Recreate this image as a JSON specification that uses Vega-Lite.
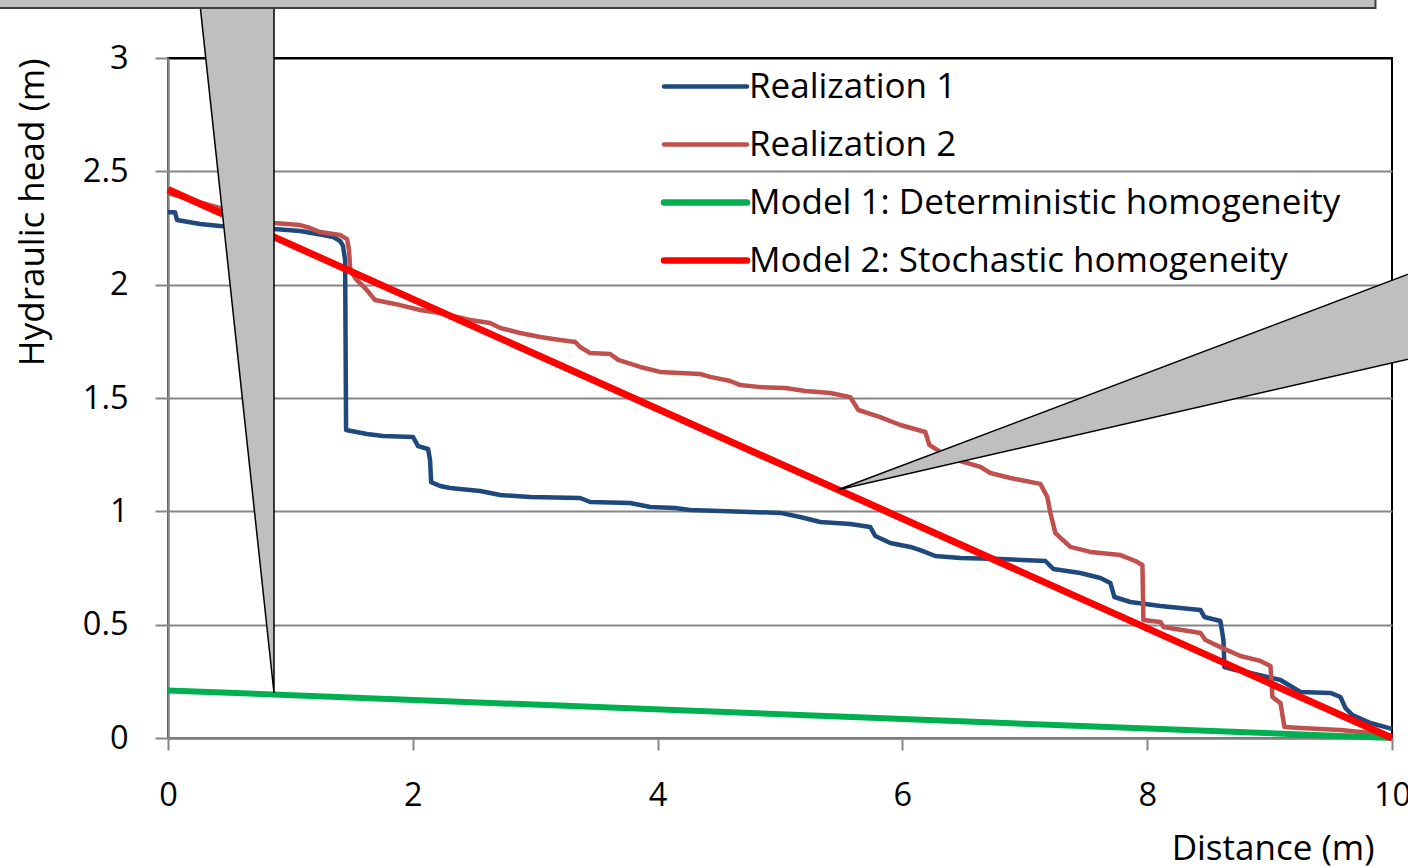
{
  "$schema": "https://vega.github.io/schema/vega-lite/v6.json",
  "autosize": {"type": "none"},
  "width": 1224,
  "height": 680,
  "padding": {"left": 168, "top": 58, "right": 16, "bottom": 129},
  "background": "white",
  "config": {
    "view": {"stroke": "black", "strokeWidth": 2},
    "font": "Open Sans",
    "axis": {"labelFont": "Open Sans", "titleFont": "Open Sans", "labelColor": "black", "titleColor": "black", "titleFontWeight": "normal", "labelFontSize": 32.5, "titleFontSize": 35}
  },
  "data": {"values": [
    {"s": "Realization 1", "x": 0, "y": 2.32},
    {"s": "Realization 1", "x": 0.057, "y": 2.32},
    {"s": "Realization 1", "x": 0.074, "y": 2.285},
    {"s": "Realization 1", "x": 0.262, "y": 2.268},
    {"s": "Realization 1", "x": 0.425, "y": 2.259},
    {"s": "Realization 1", "x": 0.866, "y": 2.246},
    {"s": "Realization 1", "x": 1.079, "y": 2.237},
    {"s": "Realization 1", "x": 1.267, "y": 2.219},
    {"s": "Realization 1", "x": 1.349, "y": 2.21},
    {"s": "Realization 1", "x": 1.406, "y": 2.193},
    {"s": "Realization 1", "x": 1.43, "y": 2.171},
    {"s": "Realization 1", "x": 1.447, "y": 2.109},
    {"s": "Realization 1", "x": 1.455, "y": 1.359},
    {"s": "Realization 1", "x": 1.626, "y": 1.341},
    {"s": "Realization 1", "x": 1.757, "y": 1.332},
    {"s": "Realization 1", "x": 2.002, "y": 1.328},
    {"s": "Realization 1", "x": 2.043, "y": 1.288},
    {"s": "Realization 1", "x": 2.125, "y": 1.275},
    {"s": "Realization 1", "x": 2.141, "y": 1.226},
    {"s": "Realization 1", "x": 2.15, "y": 1.129},
    {"s": "Realization 1", "x": 2.223, "y": 1.112},
    {"s": "Realization 1", "x": 2.305, "y": 1.103},
    {"s": "Realization 1", "x": 2.55, "y": 1.09},
    {"s": "Realization 1", "x": 2.714, "y": 1.072},
    {"s": "Realization 1", "x": 2.959, "y": 1.063},
    {"s": "Realization 1", "x": 3.367, "y": 1.059},
    {"s": "Realization 1", "x": 3.449, "y": 1.041},
    {"s": "Realization 1", "x": 3.776, "y": 1.037},
    {"s": "Realization 1", "x": 3.94, "y": 1.019},
    {"s": "Realization 1", "x": 4.144, "y": 1.015},
    {"s": "Realization 1", "x": 4.266, "y": 1.006},
    {"s": "Realization 1", "x": 4.757, "y": 0.997},
    {"s": "Realization 1", "x": 5.002, "y": 0.993},
    {"s": "Realization 1", "x": 5.165, "y": 0.975},
    {"s": "Realization 1", "x": 5.329, "y": 0.953},
    {"s": "Realization 1", "x": 5.574, "y": 0.944},
    {"s": "Realization 1", "x": 5.738, "y": 0.931},
    {"s": "Realization 1", "x": 5.778, "y": 0.891},
    {"s": "Realization 1", "x": 5.901, "y": 0.86},
    {"s": "Realization 1", "x": 6.065, "y": 0.843},
    {"s": "Realization 1", "x": 6.146, "y": 0.829},
    {"s": "Realization 1", "x": 6.269, "y": 0.803},
    {"s": "Realization 1", "x": 6.473, "y": 0.794},
    {"s": "Realization 1", "x": 6.8, "y": 0.79},
    {"s": "Realization 1", "x": 7.168, "y": 0.781},
    {"s": "Realization 1", "x": 7.233, "y": 0.746},
    {"s": "Realization 1", "x": 7.454, "y": 0.728},
    {"s": "Realization 1", "x": 7.617, "y": 0.706},
    {"s": "Realization 1", "x": 7.699, "y": 0.684},
    {"s": "Realization 1", "x": 7.732, "y": 0.622},
    {"s": "Realization 1", "x": 7.863, "y": 0.6},
    {"s": "Realization 1", "x": 8.108, "y": 0.582},
    {"s": "Realization 1", "x": 8.435, "y": 0.565},
    {"s": "Realization 1", "x": 8.467, "y": 0.534},
    {"s": "Realization 1", "x": 8.598, "y": 0.516},
    {"s": "Realization 1", "x": 8.623, "y": 0.432},
    {"s": "Realization 1", "x": 8.631, "y": 0.313},
    {"s": "Realization 1", "x": 8.721, "y": 0.3},
    {"s": "Realization 1", "x": 8.843, "y": 0.287},
    {"s": "Realization 1", "x": 9.089, "y": 0.256},
    {"s": "Realization 1", "x": 9.252, "y": 0.203},
    {"s": "Realization 1", "x": 9.497, "y": 0.199},
    {"s": "Realization 1", "x": 9.579, "y": 0.181},
    {"s": "Realization 1", "x": 9.62, "y": 0.132},
    {"s": "Realization 1", "x": 9.677, "y": 0.101},
    {"s": "Realization 1", "x": 9.824, "y": 0.066},
    {"s": "Realization 1", "x": 10, "y": 0.04},
    {"s": "Realization 2", "x": 0, "y": 2.404},
    {"s": "Realization 2", "x": 0.343, "y": 2.351},
    {"s": "Realization 2", "x": 0.866, "y": 2.272},
    {"s": "Realization 2", "x": 1.079, "y": 2.263},
    {"s": "Realization 2", "x": 1.161, "y": 2.25},
    {"s": "Realization 2", "x": 1.242, "y": 2.232},
    {"s": "Realization 2", "x": 1.406, "y": 2.219},
    {"s": "Realization 2", "x": 1.463, "y": 2.201},
    {"s": "Realization 2", "x": 1.479, "y": 2.153},
    {"s": "Realization 2", "x": 1.488, "y": 2.073},
    {"s": "Realization 2", "x": 1.528, "y": 2.029},
    {"s": "Realization 2", "x": 1.61, "y": 1.985},
    {"s": "Realization 2", "x": 1.692, "y": 1.932},
    {"s": "Realization 2", "x": 1.896, "y": 1.91},
    {"s": "Realization 2", "x": 2.06, "y": 1.888},
    {"s": "Realization 2", "x": 2.223, "y": 1.875},
    {"s": "Realization 2", "x": 2.468, "y": 1.844},
    {"s": "Realization 2", "x": 2.632, "y": 1.831},
    {"s": "Realization 2", "x": 2.714, "y": 1.809},
    {"s": "Realization 2", "x": 2.877, "y": 1.787},
    {"s": "Realization 2", "x": 3.04, "y": 1.769},
    {"s": "Realization 2", "x": 3.204, "y": 1.756},
    {"s": "Realization 2", "x": 3.327, "y": 1.747},
    {"s": "Realization 2", "x": 3.367, "y": 1.725},
    {"s": "Realization 2", "x": 3.449, "y": 1.698},
    {"s": "Realization 2", "x": 3.613, "y": 1.694},
    {"s": "Realization 2", "x": 3.678, "y": 1.668},
    {"s": "Realization 2", "x": 3.858, "y": 1.637},
    {"s": "Realization 2", "x": 4.021, "y": 1.615},
    {"s": "Realization 2", "x": 4.348, "y": 1.606},
    {"s": "Realization 2", "x": 4.43, "y": 1.593},
    {"s": "Realization 2", "x": 4.593, "y": 1.575},
    {"s": "Realization 2", "x": 4.675, "y": 1.557},
    {"s": "Realization 2", "x": 4.839, "y": 1.548},
    {"s": "Realization 2", "x": 5.043, "y": 1.544},
    {"s": "Realization 2", "x": 5.206, "y": 1.531},
    {"s": "Realization 2", "x": 5.411, "y": 1.522},
    {"s": "Realization 2", "x": 5.574, "y": 1.504},
    {"s": "Realization 2", "x": 5.64, "y": 1.447},
    {"s": "Realization 2", "x": 5.819, "y": 1.416},
    {"s": "Realization 2", "x": 5.983, "y": 1.381},
    {"s": "Realization 2", "x": 6.187, "y": 1.35},
    {"s": "Realization 2", "x": 6.22, "y": 1.293},
    {"s": "Realization 2", "x": 6.31, "y": 1.262},
    {"s": "Realization 2", "x": 6.473, "y": 1.222},
    {"s": "Realization 2", "x": 6.637, "y": 1.196},
    {"s": "Realization 2", "x": 6.718, "y": 1.169},
    {"s": "Realization 2", "x": 6.882, "y": 1.147},
    {"s": "Realization 2", "x": 7.127, "y": 1.121},
    {"s": "Realization 2", "x": 7.184, "y": 1.063},
    {"s": "Realization 2", "x": 7.209, "y": 0.993},
    {"s": "Realization 2", "x": 7.25, "y": 0.904},
    {"s": "Realization 2", "x": 7.372, "y": 0.843},
    {"s": "Realization 2", "x": 7.536, "y": 0.821},
    {"s": "Realization 2", "x": 7.781, "y": 0.807},
    {"s": "Realization 2", "x": 7.903, "y": 0.781},
    {"s": "Realization 2", "x": 7.961, "y": 0.763},
    {"s": "Realization 2", "x": 7.969, "y": 0.521},
    {"s": "Realization 2", "x": 8.108, "y": 0.512},
    {"s": "Realization 2", "x": 8.133, "y": 0.49},
    {"s": "Realization 2", "x": 8.435, "y": 0.463},
    {"s": "Realization 2", "x": 8.476, "y": 0.432},
    {"s": "Realization 2", "x": 8.598, "y": 0.401},
    {"s": "Realization 2", "x": 8.762, "y": 0.362},
    {"s": "Realization 2", "x": 8.925, "y": 0.34},
    {"s": "Realization 2", "x": 9.007, "y": 0.318},
    {"s": "Realization 2", "x": 9.023, "y": 0.181},
    {"s": "Realization 2", "x": 9.089, "y": 0.154},
    {"s": "Realization 2", "x": 9.121, "y": 0.049},
    {"s": "Realization 2", "x": 9.252, "y": 0.044},
    {"s": "Realization 2", "x": 9.579, "y": 0.035},
    {"s": "Realization 2", "x": 9.824, "y": 0.022},
    {"s": "Realization 2", "x": 10, "y": 0.009},
    {"s": "Model 1: Deterministic homogeneity", "x": 0, "y": 0.21},
    {"s": "Model 1: Deterministic homogeneity", "x": 10, "y": 0},
    {"s": "Model 2: Stochastic homogeneity", "x": 0, "y": 2.42},
    {"s": "Model 2: Stochastic homogeneity", "x": 10, "y": 0}
  ]},
  "layer": [
    {
      "transform": [{"filter": "indexof(datum.s, 'Realization') === 0"}],
      "mark": {"type": "line", "strokeWidth": 4.5, "strokeJoin": "round"},
      "encoding": {
        "x": {"field": "x", "type": "quantitative", "scale": {"domain": [0, 10], "nice": false, "zero": false},
          "axis": {"values": [0, 2, 4, 6, 8, 10], "format": "d", "grid": false, "domainColor": "#868686", "domainWidth": 2.5, "tickColor": "#868686", "tickWidth": 2, "tickSize": 12, "labelPadding": 29, "labelFlush": false, "labelOverlap": false, "title": "Distance (m)", "titleX": 1206, "titleY": 121, "titleAlign": "right", "titleBaseline": "alphabetic", "titleAnchor": null}},
        "y": {"field": "y", "type": "quantitative", "scale": {"domain": [0, 3], "nice": false, "zero": false},
          "axis": {"values": [0, 0.5, 1, 1.5, 2, 2.5, 3], "format": ".1~f", "grid": true, "gridColor": {"condition": {"test": "datum.value === 3", "value": "black"}, "value": "#868686"}, "gridWidth": 2, "domainColor": "#868686", "domainWidth": 2.5, "tickColor": "#868686", "tickWidth": 2, "tickSize": 13, "labelPadding": 27, "labelFlush": false, "labelOverlap": false, "title": "Hydraulic head (m)", "titleAngle": 270, "titleAlign": "right", "titleBaseline": "alphabetic", "titleX": -125, "titleY": 0}},
        "color": {"field": "s", "type": "nominal",
          "scale": {"domain": ["Realization 1", "Realization 2", "Model 1: Deterministic homogeneity", "Model 2: Stochastic homogeneity"], "range": ["#1F497D", "#C0504D", "#00B050", "#FF0000"]},
          "legend": {"orient": "none", "legendX": 520, "legendY": 11, "padding": 0, "title": null, "symbolType": "stroke", "symbolSize": 6889, "symbolStrokeWidth": 4, "labelFont": "Open Sans", "labelFontSize": 35, "labelColor": "black", "labelOffset": 26, "labelLimit": 0, "rowPadding": 22,
            "encode": {"symbols": {"update": {"strokeWidth": {"signal": "datum.index >= 2 ? 6.5 : 4.5"}, "strokeCap": {"value": "round"}}}}}
        }
      }
    },
    {
      "transform": [{"filter": "datum.s === 'Model 1: Deterministic homogeneity'"}],
      "mark": {"type": "line", "strokeWidth": 6},
      "encoding": {
        "x": {"field": "x", "type": "quantitative"},
        "y": {"field": "y", "type": "quantitative"},
        "color": {"field": "s", "type": "nominal"}
      }
    },
    {
      "transform": [{"filter": "datum.s === 'Model 2: Stochastic homogeneity'"}],
      "mark": {"type": "line", "strokeWidth": 7},
      "encoding": {
        "x": {"field": "x", "type": "quantitative"},
        "y": {"field": "y", "type": "quantitative"},
        "color": {"field": "s", "type": "nominal"}
      }
    },
    {
      "data": {"values": [
        {"y": 3.278, "x": 0.253, "x2": 0.866},
        {"y": 0.1985, "x": 0.866, "x2": 0.866}
      ]},
      "mark": {"type": "area", "orient": "horizontal", "fill": "#BFBFBF", "stroke": "black", "strokeWidth": 1.5, "clip": false},
      "encoding": {
        "y": {"field": "y", "type": "quantitative"},
        "x": {"field": "x", "type": "quantitative"},
        "x2": {"field": "x2"}
      }
    },
    {
      "data": {"values": [
        {"x": 5.468, "y": 1.094, "y2": 1.094},
        {"x": 10.887, "y": 2.2, "y2": 1.765}
      ]},
      "mark": {"type": "area", "orient": "vertical", "fill": "#BFBFBF", "stroke": "black", "strokeWidth": 1.5, "clip": false},
      "encoding": {
        "x": {"field": "x", "type": "quantitative"},
        "y": {"field": "y", "type": "quantitative"},
        "y2": {"field": "y2"}
      }
    },
    {
      "data": {"values": [{"x": -2, "x2": 9.865, "y": 3.2205, "y2": 3.5}]},
      "mark": {"type": "rect", "fill": "#BFBFBF", "stroke": "#404040", "strokeWidth": 2, "clip": false},
      "encoding": {
        "x": {"field": "x", "type": "quantitative"},
        "x2": {"field": "x2"},
        "y": {"field": "y", "type": "quantitative"},
        "y2": {"field": "y2"}
      }
    }
  ]
}
